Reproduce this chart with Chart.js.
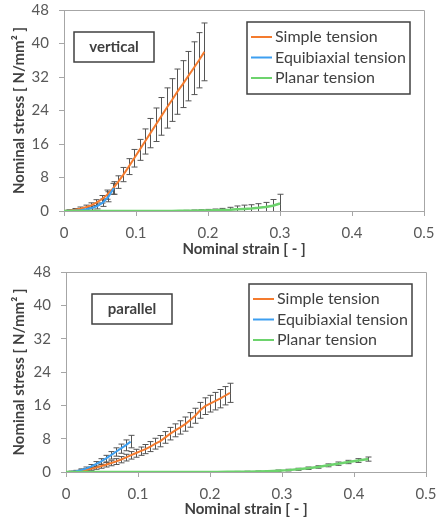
<!DOCTYPE html>
<html>
<head>
<meta charset="utf-8">
<script src="https://cdn.jsdelivr.net/npm/chart.js@4.4.1/dist/chart.umd.min.js"></script>
<style>
  body { margin: 0; background: #fff; width: 436px; height: 519px; overflow: hidden; position: relative; }
  canvas { position: absolute; left: 0; }
</style>
</head>
<body>
<canvas id="verticalChart" width="436" height="260" style="top:0px"></canvas>
<canvas id="parallelChart" width="436" height="259" style="top:260px"></canvas>
<script>
const seriesLabels = ['Simple tension', 'Equibiaxial tension', 'Planar tension'];
const seriesColors = ['#f47b2e', '#3d9ff0', '#6dd36d'];
const xTicks = [0, 0.1, 0.2, 0.3, 0.4, 0.5];
const yTicks = [0, 8, 16, 24, 32, 40, 48];

// vertical direction
const vSimpleStrain = [0, 0.0075, 0.015, 0.0225, 0.03, 0.0375, 0.045, 0.0525, 0.06, 0.0675, 0.075, 0.0825, 0.09, 0.0975,
  0.105, 0.1125, 0.12, 0.1275, 0.135, 0.1425, 0.15, 0.1575, 0.165, 0.1725, 0.18, 0.1875, 0.195];
const vSimpleStress = [0, 0.1, 0.3, 0.55, 0.9, 1.35, 2.0, 2.8, 3.9, 5.3, 6.9, 8.7, 10.6, 12.6,
  14.6, 16.6, 18.6, 20.6, 22.6, 24.6, 26.5, 28.5, 30.3, 32.2, 34.1, 36.0, 38.0];
const vSimpleErr = [0.1, 0.2, 0.3, 0.4, 0.5, 0.6, 0.7, 0.9, 1.1, 1.3, 1.5, 1.7, 1.9, 2.1,
  2.5, 3.0, 3.5, 4.0, 4.5, 4.8, 5.1, 5.4, 5.6, 5.9, 6.3, 6.6, 6.9];

const vBiaxStrain = [0, 0.0077, 0.0154, 0.0231, 0.0308, 0.0385, 0.0462, 0.0539, 0.0616, 0.0693];
const vBiaxStress = [0, 0.03, 0.1, 0.2, 0.4, 0.7, 1.2, 2.0, 3.4, 5.5];
const vBiaxErr = [0.1, 0.15, 0.2, 0.3, 0.4, 0.5, 0.7, 0.9, 1.2, 1.5];

const vPlanarStrain = [0, 0.01, 0.02, 0.03, 0.04, 0.05, 0.06, 0.07, 0.08, 0.09, 0.1, 0.11, 0.12, 0.13, 0.14,
  0.15, 0.16, 0.17, 0.18, 0.19, 0.2, 0.21, 0.22, 0.23, 0.24, 0.25, 0.26, 0.27, 0.28, 0.29, 0.3];
const vPlanarStress = [0, 0, 0, 0, 0, 0, 0, 0, 0, 0, 0, 0, 0, 0, 0,
  0.02, 0.04, 0.06, 0.08, 0.1, 0.13, 0.17, 0.22, 0.28, 0.4, 0.5, 0.6, 0.75, 0.95, 1.25, 1.8];
const vPlanarErr = [0.03, 0.03, 0.03, 0.03, 0.03, 0.03, 0.03, 0.03, 0.03, 0.03, 0.03, 0.03, 0.03, 0.03, 0.03,
  0.05, 0.08, 0.1, 0.15, 0.2, 0.25, 0.3, 0.4, 0.6, 0.8, 0.9, 0.9, 1.0, 1.1, 1.5, 2.2];

// parallel direction
const pSimpleStrain = [0, 0.0069, 0.0138, 0.0207, 0.0276, 0.0345, 0.0414, 0.0483, 0.0552, 0.0621, 0.069, 0.0759,
  0.0828, 0.0897, 0.0966, 0.1035, 0.1104, 0.1173, 0.1242, 0.1311, 0.138, 0.1449, 0.1518, 0.1587, 0.1656, 0.1725,
  0.1794, 0.1863, 0.1932, 0.2001, 0.207, 0.2139, 0.2208, 0.2277];
const pSimpleStress = [0, 0.05, 0.15, 0.3, 0.5, 0.75, 1.05, 1.4, 1.75, 2.1, 2.5, 2.95,
  3.45, 4.0, 4.5, 5.0, 5.5, 6.1, 6.8, 7.4, 8.3, 9.2, 10.0, 10.7, 11.5, 12.5,
  13.5, 14.8, 15.8, 16.4, 17.0, 17.6, 18.3, 19.0];
const pSimpleErr = [0.05, 0.1, 0.15, 0.2, 0.3, 0.35, 0.4, 0.5, 0.55, 0.6, 0.7, 0.75,
  0.8, 0.9, 0.95, 1.0, 1.1, 1.2, 1.3, 1.35, 1.4, 1.5, 1.55, 1.6, 1.7, 1.75,
  1.8, 1.9, 2.0, 2.0, 2.1, 2.2, 2.2, 2.3];

const pBiaxStrain = [0, 0.0069, 0.0138, 0.0207, 0.0276, 0.0345, 0.0414, 0.0483, 0.0552, 0.0621, 0.069, 0.0759, 0.0828, 0.0897];
const pBiaxStress = [0, 0.05, 0.2, 0.45, 0.8, 1.3, 1.9, 2.5, 3.2, 4.0, 4.8, 5.6, 6.4, 7.3];
const pBiaxErr = [0.1, 0.15, 0.2, 0.3, 0.4, 0.5, 0.6, 0.7, 0.8, 0.9, 1.0, 1.1, 1.3, 1.5];

const pPlanarStrain = [0, 0.014, 0.028, 0.042, 0.056, 0.07, 0.084, 0.098, 0.112, 0.126, 0.14, 0.154, 0.168, 0.182, 0.196,
  0.21, 0.224, 0.238, 0.252, 0.266, 0.28, 0.294, 0.308, 0.322, 0.336, 0.35, 0.364, 0.378, 0.392, 0.406, 0.42];
const pPlanarStress = [0, 0, 0, 0, 0, 0, 0, 0, 0, 0, 0, 0, 0, 0, 0,
  0.02, 0.04, 0.06, 0.09, 0.13, 0.2, 0.32, 0.45, 0.65, 0.9, 1.2, 1.6, 2.0, 2.4, 2.75, 3.1];
const pPlanarErr = [0.03, 0.03, 0.03, 0.03, 0.03, 0.03, 0.03, 0.03, 0.03, 0.03, 0.03, 0.03, 0.03, 0.03, 0.03,
  0.05, 0.05, 0.08, 0.1, 0.1, 0.15, 0.15, 0.2, 0.25, 0.3, 0.3, 0.35, 0.4, 0.4, 0.45, 0.5];

const FONT = 'Lato, "Open Sans", sans-serif';
const axisGray = '#a6a6a6';

// error bars, frame, legend box and panel label
const extrasPlugin = {
    id: 'extras',
    beforeDatasetsDraw(chart) {
        const { ctx, chartArea: a, scales: { x, y } } = chart;
        ctx.save();
        ctx.strokeStyle = axisGray;
        ctx.lineWidth = 1;
        ctx.beginPath();
        ctx.moveTo(a.left, a.top + 0.5);
        ctx.lineTo(a.right + 0.5, a.top + 0.5);
        ctx.lineTo(a.right + 0.5, a.bottom);
        ctx.stroke();

        ctx.beginPath();
        ctx.rect(a.left, a.top - 2, a.width, a.height + 2);
        ctx.clip();
        ctx.strokeStyle = '#555';
        chart.data.datasets.forEach(ds => {
            ds.data.forEach((p, i) => {
                const px = Math.round(x.getPixelForValue(p.x)) + 0.5;
                const top = y.getPixelForValue(p.y + ds.errors[i]);
                const bot = y.getPixelForValue(p.y - ds.errors[i]);
                ctx.beginPath();
                ctx.moveTo(px, top); ctx.lineTo(px, bot);
                ctx.moveTo(px - 3, top); ctx.lineTo(px + 3, top);
                ctx.moveTo(px - 3, bot); ctx.lineTo(px + 3, bot);
                ctx.stroke();
            });
        });
        ctx.restore();
    },
    afterDraw(chart, args, opts) {
        const { ctx, chartArea: a } = chart;
        ctx.save();
        // panel label
        const lx = a.left + opts.labelDx, ly = a.top + 22;
        ctx.strokeStyle = '#404040';
        ctx.lineWidth = 1.5;
        ctx.fillStyle = '#fff';
        ctx.fillRect(lx, ly, 80, 30);
        ctx.strokeRect(lx, ly, 80, 30);
        ctx.fillStyle = '#404040';
        ctx.font = 'bold 15px ' + FONT;
        ctx.textAlign = 'center';
        ctx.textBaseline = 'middle';
        ctx.fillText(opts.label, lx + 40, ly + 15);

        // legend, in series order
        const bx = a.right - 14 - 163, by = a.top + 12;
        ctx.fillStyle = '#fff';
        ctx.fillRect(bx, by, 163, 72);
        ctx.strokeRect(bx, by, 163, 72);
        ctx.textAlign = 'left';
        ctx.font = '16px ' + FONT;
        seriesLabels.forEach((label, i) => {
            const ry = by + 15 + i * 20.5;
            ctx.strokeStyle = seriesColors[i];
            ctx.lineWidth = 2;
            ctx.beginPath();
            ctx.moveTo(bx + 4, ry); ctx.lineTo(bx + 25, ry);
            ctx.stroke();
            ctx.fillStyle = '#404040';
            ctx.fillText(label, bx + 28, ry);
        });
        ctx.restore();
    }
};

const toPoints = (xs, ys) => xs.map((v, i) => ({ x: v, y: ys[i] }));

const createChart = (canvasId, series, cfg) => {
    return new Chart(document.getElementById(canvasId).getContext('2d'), {
        type: 'scatter',
        data: {
            // planar first so simple tension ends up on top
            datasets: series.map((s, i) => ({
                label: seriesLabels[i],
                data: toPoints(s[0], s[1]),
                errors: s[2],
                borderColor: seriesColors[i],
                backgroundColor: seriesColors[i],
                borderWidth: i === 2 ? 2.5 : 2,
                showLine: true,
                pointRadius: 0,
                tension: 0
            })).reverse()
        },
        options: {
            responsive: false,
            animation: false,
            layout: { padding: { top: cfg.top, right: cfg.right, left: 0, bottom: 0 } },
            scales: {
                x: {
                    type: 'linear', min: 0, max: 0.5,
                    afterBuildTicks: s => { s.ticks = xTicks.map(v => ({ value: v })); },
                    afterFit: s => { s.height = cfg.xHeight; s.paddingLeft = 0; s.paddingRight = 0; },
                    ticks: { color: '#595959', font: { family: FONT, size: 15 }, padding: 8, maxRotation: 0, callback: v => String(v) },
                    grid: { drawOnChartArea: false, tickLength: 5, color: axisGray },
                    border: { color: axisGray },
                    title: {
                        display: true, text: 'Nominal strain [ - ]', color: '#404040',
                        font: { family: FONT, size: 15, weight: 'bold' },
                        padding: { top: 0, bottom: cfg.xTitlePad }
                    }
                },
                y: {
                    type: 'linear', min: 0, max: 48,
                    afterBuildTicks: s => { s.ticks = yTicks.map(v => ({ value: v })); },
                    afterFit: s => { s.width = cfg.yWidth; s.paddingTop = 0; s.paddingBottom = 0; },
                    ticks: { color: '#595959', font: { family: FONT, size: 15 }, padding: 10, callback: v => String(v) },
                    grid: { drawOnChartArea: false, tickLength: 5, color: axisGray },
                    border: { color: axisGray },
                    title: {
                        display: true, text: 'Nominal stress [ N/mm² ]', color: '#404040',
                        font: { family: FONT, size: 15, weight: 'bold' },
                        padding: { top: 10, bottom: 0 }
                    }
                }
            },
            plugins: {
                legend: { display: false },
                tooltip: { enabled: false },
                extras: { label: cfg.label, labelDx: cfg.labelDx }
            }
        },
        plugins: [extrasPlugin]
    });
};

document.addEventListener('DOMContentLoaded', () => {
    const verticalChart = createChart('verticalChart', [
        [vSimpleStrain, vSimpleStress, vSimpleErr],
        [vBiaxStrain, vBiaxStress, vBiaxErr],
        [vPlanarStrain, vPlanarStress, vPlanarErr]
    ], { top: 10, right: 12, yWidth: 64, xHeight: 49, xTitlePad: 2, label: 'vertical', labelDx: 10 });

    const parallelChart = createChart('parallelChart', [
        [pSimpleStrain, pSimpleStress, pSimpleErr],
        [pBiaxStrain, pBiaxStress, pBiaxErr],
        [pPlanarStrain, pPlanarStress, pPlanarErr]
    ], { top: 12, right: 10, yWidth: 66, xHeight: 47, xTitlePad: 1, label: 'parallel', labelDx: 26 });
});
</script>
</body>
</html>
